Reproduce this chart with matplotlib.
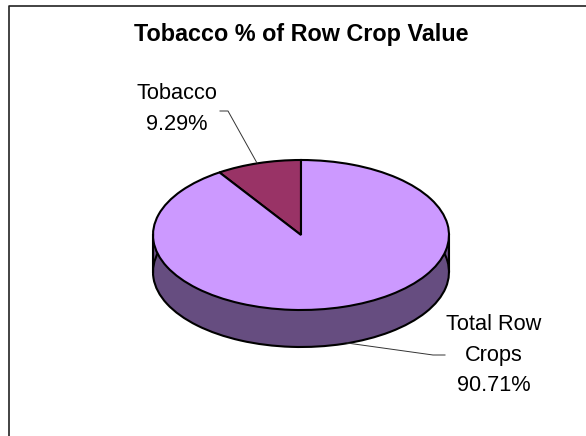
import matplotlib
matplotlib.use("Agg")
import matplotlib.pyplot as plt

plt.rcParams['font.family'] = ['Liberation Sans', 'DejaVu Sans']

# Data
categories = ["Tobacco", "Total Row\nCrops"]
shares = [9.29, 90.71]
top_colors = ["#993366", "#CC99FF"]
side_colors = ["#4D1A33", "#664D80"]

W, H = 586, 436
fig = plt.figure(figsize=(W / 100, H / 100), dpi=100, facecolor="white")

# frame, only left and top are inside the picture
fig.add_artist(plt.Line2D([9.5 / W, 9.5 / W, 1], [0, 1 - 6.5 / H, 1 - 6.5 / H], color="#222222", lw=1.2))

# axes in pixel layout, pie ellipse centre (301, 235), radii 148 x 75
cx, cy, rx, ry, depth = 301, 235, 148, 75, 37
ax = fig.add_axes([(cx - rx) / W, 1 - (cy + ry + depth) / H, 2 * rx / W, (2 * ry + depth) / H])

# side wall, stacked copies of the pie going down
for i in range(depth, 0, -1):
    ax.pie(shares, colors=side_colors, startangle=90, radius=1, center=(0, -i / ry),
           frame=False, wedgeprops={"linewidth": 0.0})
ax.pie(shares, colors=side_colors, startangle=90, radius=1, center=(0, -depth / ry),
       frame=False, wedgeprops={"linewidth": 1.5, "edgecolor": "black"})
ax.plot([-1, -1], [0, -depth / ry], color="black", lw=1.5, clip_on=False)
ax.plot([1, 1], [0, -depth / ry], color="black", lw=1.5, clip_on=False)

# top face
ax.pie(shares, colors=top_colors, startangle=90, radius=1, center=(0, 0),
       frame=False, wedgeprops={"linewidth": 1.5, "edgecolor": "black"})

# pie() resets limits and aspect
ax.set_xlim(-1, 1)
ax.set_ylim(-1 - depth / ry, 1)
ax.set_aspect("auto")
ax.axis("off")

fig.text(301 / W, 1 - 35 / H, "Tobacco % of Row Crop Value", ha="center", va="center",
         fontsize=16.8, fontweight="bold")

fig.text(177 / W, 1 - 109 / H, f"{categories[0]}\n{shares[0]:.2f}%", ha="center", va="center",
         fontsize=15.7, linespacing=1.6)
fig.text(494 / W, 1 - 355 / H, f"{categories[1]}\n{shares[1]:.2f}%", ha="center", va="center",
         fontsize=15.7, linespacing=1.6)

# leader lines
fig.add_artist(plt.Line2D([220 / W, 228 / W, 257 / W], [1 - 111 / H, 1 - 111 / H, 1 - 163 / H],
                          color="#333333", lw=0.7))
fig.add_artist(plt.Line2D([445 / W, 433 / W, 347 / W], [1 - 355 / H, 1 - 355 / H, 1 - 343 / H],
                          color="#333333", lw=0.7))

fig.savefig("out.png", dpi=100)
